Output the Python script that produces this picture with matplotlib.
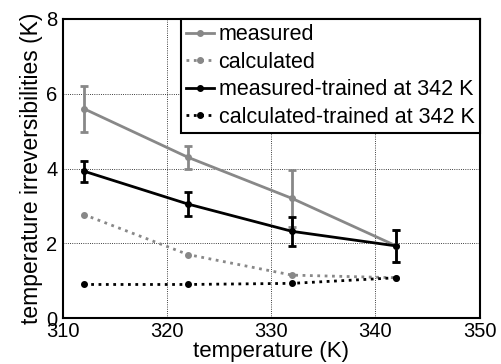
import matplotlib
matplotlib.use("Agg")
import matplotlib.pyplot as plt
from matplotlib.lines import Line2D

plt.rcParams['font.family'] = ['Liberation Sans', 'DejaVu Sans']

temps = [312, 322, 332, 342]
measured = [5.6, 4.3, 3.2, 1.93]
measured_err = [0.62, 0.3, 0.75, 0.42]
calculated = [2.77, 1.7, 1.15, 1.08]
meas_trained = [3.93, 3.05, 2.32, 1.93]
meas_trained_err = [0.28, 0.33, 0.38, 0.42]
calc_trained = [0.9, 0.9, 0.93, 1.08]
labels = ['measured', 'calculated', 'measured-trained at 342 K', 'calculated-trained at 342 K']

fig = plt.figure(figsize=(5.02, 3.64), dpi=100)
ax = fig.add_axes([0.1255, 0.126, 0.83, 0.822])

gray = '#888888'
ax.errorbar(temps, measured, yerr=measured_err, color=gray, lw=2, marker='o', ms=4,
            capsize=3, elinewidth=2, capthick=2)
ax.plot(temps, calculated, color=gray, lw=2, ls=':', marker='o', ms=4)
ax.errorbar(temps, meas_trained, yerr=meas_trained_err, color='black', lw=2, marker='o', ms=4,
            capsize=3, elinewidth=2, capthick=2)
ax.plot(temps, calc_trained, color='black', lw=2, ls=':', marker='o', ms=4)

handles = [
    Line2D([], [], color=gray, lw=2, marker='o', ms=4),
    Line2D([], [], color=gray, lw=2, ls=':', marker='o', ms=4),
    Line2D([], [], color='black', lw=2, marker='o', ms=4),
    Line2D([], [], color='black', lw=2, ls=':', marker='o', ms=4),
]

ax.set_xlim(310, 350)
ax.set_ylim(0, 8)
ax.set_xticks([310, 320, 330, 340, 350])
ax.set_yticks([0, 2, 4, 6, 8])
ax.grid(True, color='black', ls=':', lw=0.6)
ax.tick_params(labelsize=14.5, direction='in', length=0)
ax.tick_params(axis='x', pad=3)
ax.tick_params(axis='y', pad=4)
for s in ax.spines.values():
    s.set_linewidth(1.5)
ax.set_xlabel('temperature (K)', fontsize=16, labelpad=0)
ax.set_ylabel('temperature irreversibilities (K)', fontsize=16.5, labelpad=2)

leg = ax.legend(handles, labels, loc='upper right', fontsize=15.5, frameon=True, fancybox=False,
                edgecolor='black', framealpha=1, borderaxespad=0, handlelength=1.3,
                handletextpad=0.2, labelspacing=0.3, borderpad=0.25)
leg.get_frame().set_linewidth(1.5)

fig.savefig('out.png', dpi=100)
